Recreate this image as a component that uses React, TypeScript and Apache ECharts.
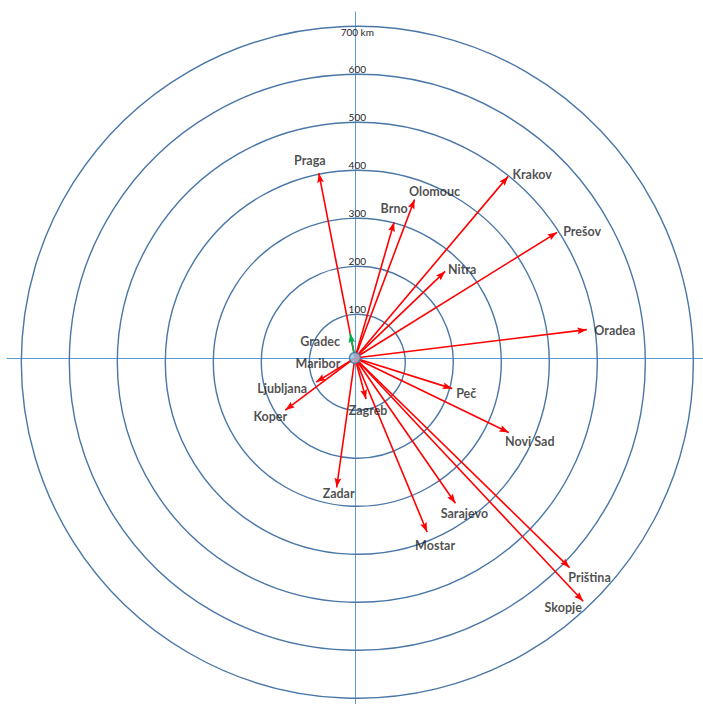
import React, { useEffect, useRef } from 'react';
import * as echarts from 'echarts';

// ---- data ----
const originCity = 'Maribor';
const cities = ['Praga', 'Brno', 'Olomouc', 'Nitra', 'Krakov', 'Prešov', 'Oradea', 'Peč', 'Novi Sad', 'Sarajevo', 'Mostar', 'Priština', 'Skopje', 'Zagreb', 'Zadar', 'Ljubljana', 'Koper'];
const distancesKm = [397, 298, 357, 263, 500, 500, 490, 214, 359, 372, 397, 631, 702, 90, 276, 96, 183];
const bearingsDeg = [349, 16, 20.5, 46, 40, 58, 83, 107.6, 116, 145.5, 157.6, 134.5, 137, 165, 188, 238, 233];
const nearCities = ['Gradec'];
const nearDistancesKm = [53];
const nearBearingsDeg = [349];
const ringTicks = [100, 200, 300, 400, 500, 600, 700];
const ringLabels = ['100', '200', '300', '400', '500', '600', '700 km'];

// ---- label placement (style) ----
const labelOffsets: Record<string, [number, number]> = {
  Maribor: [-37, 6],
  Praga: [-9, -13],
  Brno: [0, -14],
  Olomouc: [20, -8],
  Nitra: [17, -2],
  Krakov: [24, -2],
  'Prešov': [25, -1],
  Oradea: [28, 1],
  'Peč': [14, 5],
  'Novi Sad': [21, 9],
  Sarajevo: [9, 10],
  Mostar: [8, 14],
  'Priština': [20, 10],
  Skopje: [-20, 6],
  Zagreb: [2, 11],
  Zadar: [2, 6],
  Ljubljana: [-34, 6],
  Koper: [-15, 6],
  Gradec: [-30, 8],
};

const CX = 357.3;
const CY = 362.3;
const R = 336;
const MAXKM = 700;
const AXISKM = 730;
const S = R / MAXKM;

const ARROW = 'path://M-10,-10L-10,-10M10,-10L10,-10M10,10L10,10M0,0L3.6,10L0,8.3L-3.6,10Z';

function toXY(d: number, b: number): [number, number] {
  const a = (b * Math.PI) / 180;
  return [d * Math.sin(a), d * Math.cos(a)];
}

export default function App() {
  const ref = useRef<HTMLDivElement>(null);
  useEffect(() => {
    if (!ref.current) return;
    const chart = echarts.init(ref.current, null, { renderer: 'svg' });
    const font = 'Lato, "Open Sans", sans-serif';
    const farTips = cities.map((c, i) => toXY(distancesKm[i], bearingsDeg[i]));
    const nearTips = nearCities.map((c, i) => toXY(nearDistancesKm[i], nearBearingsDeg[i]));
    const labelData = [
      { name: originCity, value: [0, 0] },
      ...cities.map((c, i) => ({ name: c, value: farTips[i] })),
      ...nearCities.map((c, i) => ({ name: c, value: nearTips[i] })),
    ].map((d) => ({
      ...d,
      label: { offset: labelOffsets[d.name] || [0, 0] },
    }));

    const axisCommon = {
      type: 'value',
      min: -AXISKM,
      max: AXISKM,
      axisLine: { show: true, onZero: true, lineStyle: { color: '#5b9bd5', width: 1 } },
      axisTick: { show: false },
      axisLabel: { show: false },
      splitLine: { show: false },
    };

    chart.setOption({
      animation: false,
      backgroundColor: '#ffffff',
      polar: { center: [CX, CY], radius: R },
      angleAxis: {
        type: 'value',
        min: 0,
        max: 360,
        startAngle: 90,
        clockwise: true,
        axisLine: { show: false },
        axisTick: { show: false },
        axisLabel: { show: false },
        splitLine: { show: false },
      },
      radiusAxis: {
        type: 'value',
        min: 0,
        max: MAXKM,
        interval: 100,
        axisLine: { show: false },
        axisTick: { show: false },
        axisLabel: {
          show: true,
          showMinLabel: false,
          margin: 0,
          align: 'center',
          verticalAlign: 'middle',
          fontSize: 10,
          lineHeight: 11,
          fontFamily: font,
          color: '#262626',
          formatter: (v: number) => {
            const k = ringTicks.indexOf(v);
            if (k < 0) return '';
            return k === ringTicks.length - 1 ? ' \n' + ringLabels[k] : ringLabels[k] + '\n ';
          },
        },
        splitLine: { show: true, lineStyle: { color: '#4a76a8', width: 1.4 } },
        z: 1,
      },
      grid: {
        left: CX - AXISKM * S,
        top: CY - AXISKM * S,
        width: 2 * AXISKM * S,
        height: 2 * AXISKM * S,
        containLabel: false,
      },
      xAxis: { ...axisCommon },
      yAxis: { ...axisCommon },
      series: [
        {
          type: 'lines',
          coordinateSystem: 'cartesian2d',
          symbol: ['none', ARROW],
          symbolSize: 19,
          lineStyle: { color: '#ff0000', width: 1.6, opacity: 1, curveness: 0 },
          data: cities.map((c, i) => ({ name: c, coords: [[0, 0], farTips[i]] })),
          z: 3,
        },
        {
          type: 'lines',
          coordinateSystem: 'cartesian2d',
          symbol: ['none', ARROW],
          symbolSize: 19,
          lineStyle: { color: '#00b050', width: 1.6, opacity: 1, curveness: 0 },
          data: nearCities.map((c, i) => ({ name: c, coords: [[0, 0], nearTips[i]] })),
          z: 3,
        },
        {
          type: 'scatter',
          symbolSize: 11,
          itemStyle: { color: '#9dc3e6', borderColor: '#41719c', borderWidth: 1.5 },
          data: [[0, 0]],
          z: 5,
          silent: true,
        },
        {
          type: 'scatter',
          symbolSize: 1,
          itemStyle: { color: 'transparent' },
          label: {
            show: true,
            position: 'inside',
            formatter: '{b}',
            fontFamily: font,
            fontWeight: 'bold',
            fontSize: 12.5,
            color: '#1e1e1e',
          },
          data: labelData,
          z: 6,
        },
      ],
    });
    return () => chart.dispose();
  }, []);
  return (
    <div
      ref={ref}
      style={{ position: 'fixed', left: 0, top: 0, width: 703, height: 704, background: '#fff' }}
    />
  );
}
